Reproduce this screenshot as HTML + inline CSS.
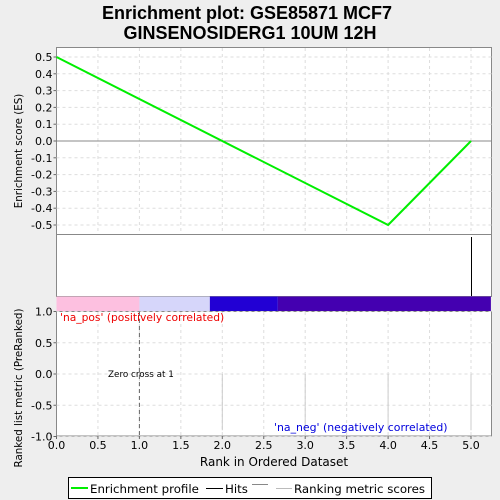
<!DOCTYPE html>
<html><head><meta charset="utf-8"><style>
body{margin:0;background:#eeeeee;}
svg{display:block;font-family:"DejaVu Sans","Liberation Sans",sans-serif;}
</style></head><body>
<svg id="c" width="500" height="500">
<text x="247" y="19" text-anchor="middle" font-size="18" font-weight="bold" font-family="Liberation Sans, sans-serif">Enrichment plot: GSE85871 MCF7</text>
<text x="250" y="39" text-anchor="middle" font-size="18" font-weight="bold" font-family="Liberation Sans, sans-serif">GINSENOSIDERG1 10UM 12H</text>
<g id="es"></g>
<g id="hits"></g>
<g id="met"></g>
<text x="22" y="151" transform="rotate(-90 22 151)" text-anchor="middle" font-size="10.3">Enrichment score (ES)</text>
<text x="22" y="388" transform="rotate(-90 22 388)" text-anchor="middle" font-size="10.3">Ranked list metric (PreRanked)</text>
<text x="274" y="466" text-anchor="middle" font-size="12">Rank in Ordered Dataset</text>
<g>
<rect x="68.5" y="477.5" width="363" height="21" fill="#fff" stroke="#000"/>
<line x1="71" y1="488" x2="88" y2="488" stroke="#00ee00" stroke-width="2"/>
<text x="90" y="493" font-size="11.8">Enrichment profile</text>
<line x1="206" y1="488.5" x2="223" y2="488.5" stroke="#000"/>
<text x="225" y="493" font-size="11.8">Hits</text>
<line x1="252" y1="484.5" x2="268" y2="484.5" stroke="#888"/>
<line x1="276" y1="488.5" x2="292" y2="488.5" stroke="#bbb"/>
<text x="294" y="493" font-size="11.8">Ranking metric scores</text>
</g>
</svg>
<script>
const esRanks=[0,4,5];
const esValues=[0.5,-0.5,0.0];
const esTicks=[0.5,0.4,0.3,0.2,0.1,0.0,-0.1,-0.2,-0.3,-0.4,-0.5];
const xTicks=[0,0.5,1,1.5,2,2.5,3,3.5,4,4.5,5];
const hitRanks=[5];
const metricRanks=[1,2,3,4,5];
const metricValues=[0,-0.9,-0.9,-0.9,-0.9];
const metricTicks=[1.0,0.5,0.0,-0.5,-1.0];
const barStarts=[0,1,1.85,2.67];
const barEnds=[1,1.85,2.67,5.24];
const barColors=['#fdc0e0','#d6d6fa','#2200d4','#4400b0'];

const NS='http://www.w3.org/2000/svg';
const L=56.5,R=491.5;
const xs=v=>L+v*82.9;
const esY=v=>141-v*168;
const mY=v=>374-v*62.5;
function mk(p,t,a){const e=document.createElementNS(NS,t);for(const k in a)e.setAttribute(k,a[k]);p.appendChild(e);return e;}
const es=document.getElementById('es'),hits=document.getElementById('hits'),met=document.getElementById('met');
mk(es,'rect',{x:L,y:47.5,width:R-L,height:187,fill:'#fff',stroke:'#888'});
xTicks.forEach(t=>{if(t>0){const g=mk(es,'line',{x1:xs(t),x2:xs(t),y1:48,y2:234,stroke:'#ddd','stroke-dasharray':'3,3'});}});
esTicks.forEach(t=>{const y=esY(t);
const g=mk(es,'line',{x1:L,x2:R,y1:y,y2:y,stroke:'#ddd','stroke-dasharray':'3,3'});

mk(es,'line',{x1:L-3,x2:L,y1:y,y2:y,stroke:'#666'});
const tx=mk(es,'text',{x:L-4,y:y+4,'text-anchor':'end','font-size':11});tx.textContent=t.toFixed(1);
});
mk(es,'line',{x1:L,x2:R,y1:esY(0),y2:esY(0),stroke:'#888'});
const pts=esRanks.map((r,i)=>xs(r)+','+esY(esValues[i])).join(' ');
const pl=mk(es,'polyline',{points:pts,fill:'none',stroke:'#00ee00','stroke-width':2});

mk(hits,'rect',{x:L,y:234.5,width:R-L,height:62,fill:'#fff',stroke:'#888'});
hitRanks.forEach(r=>{const x=Math.floor(xs(r))+0.5;const h=mk(hits,'line',{x1:x,x2:x,y1:237,y2:296,stroke:'#000'});
});
barStarts.forEach((s,i)=>{const b=mk(hits,'rect',{x:xs(s),y:296.5,width:xs(barEnds[i])-xs(s),height:15,fill:barColors[i]});
});
mk(met,'rect',{x:L,y:311.5,width:R-L,height:124.5,fill:'#fff',stroke:'#888'});
xTicks.forEach(t=>{if(t>0){const g=mk(met,'line',{x1:xs(t),x2:xs(t),y1:312,y2:436,stroke:'#ddd','stroke-dasharray':'3,3'});}});
metricTicks.forEach(t=>{const y=mY(t);
const g=mk(met,'line',{x1:L,x2:R,y1:y,y2:y,stroke:'#ddd','stroke-dasharray':'3,3'});

mk(met,'line',{x1:L-3,x2:L,y1:y,y2:y,stroke:'#666'});
const tx=mk(met,'text',{x:L-4,y:y+4,'text-anchor':'end','font-size':11});tx.textContent=t.toFixed(1);
});
metricRanks.forEach((r,i)=>{const b=mk(met,'line',{x1:xs(r),x2:xs(r),y1:mY(0),y2:mY(metricValues[i]),stroke:'#ccc'});
});
const zc=mk(met,'line',{x1:xs(1),x2:xs(1),y1:312,y2:436,stroke:'#666','stroke-dasharray':'4,3'});

let t1=mk(met,'text',{x:108,y:377,'font-size':8.8});t1.textContent='Zero cross at 1';

let t2=mk(met,'text',{x:60,y:321,'font-size':10.7,fill:'#ee0000'});t2.textContent="'na_pos' (positively correlated)";

let t3=mk(met,'text',{x:274,y:431,'font-size':10.9,fill:'#0000dd'});t3.textContent="'na_neg' (negatively correlated)";

xTicks.forEach(t=>{const x=xs(t);mk(met,'line',{x1:x,x2:x,y1:436,y2:439,stroke:'#666'});
const tx=mk(met,'text',{x:x,y:449,'text-anchor':'middle','font-size':11});tx.textContent=t.toFixed(1);
});
</script>
</body></html>
